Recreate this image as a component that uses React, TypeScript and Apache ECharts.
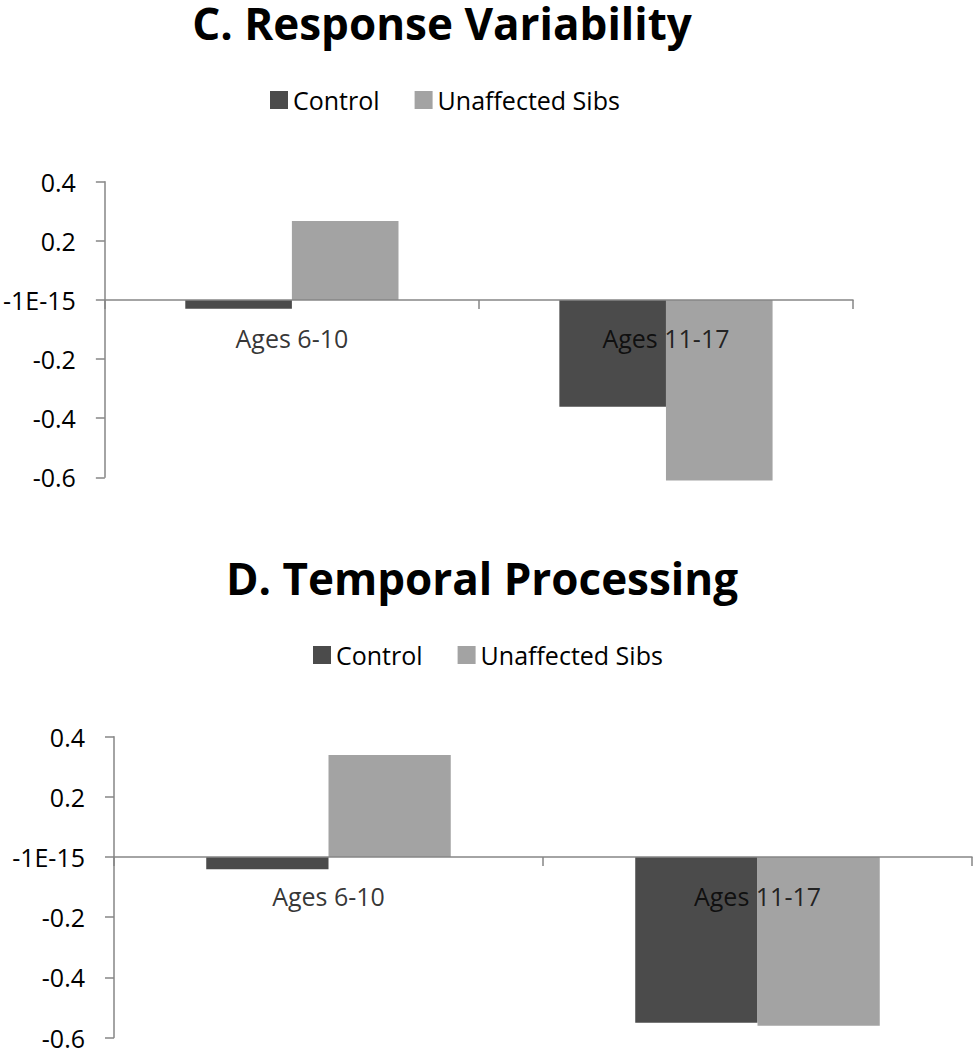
import React, { useEffect, useRef } from "react";
import * as echarts from "echarts";

const categories = ["Ages 6-10", "Ages 11-17"];
const seriesNames = ["Control", "Unaffected Sibs"];
const responseControl = [-0.03, -0.361];
const responseSibs = [0.267, -0.611];
const temporalControl = [-0.041, -0.551];
const temporalSibs = [0.339, -0.561];
const yTickLabels = ["-0.6", "-0.4", "-0.2", "-1E-15", "0.2", "0.4"];
const titles = ["C. Response Variability", "D. Temporal Processing"];

const FONT = "'Open Sans', 'Noto Sans', sans-serif";
const AXIS_COLOR = "#868686";
const COLORS = ["#4b4b4b", "#a3a3a3"];

export default function App() {
  const ref = useRef<HTMLDivElement>(null);

  useEffect(() => {
    document.body.style.margin = "0";
    if (!ref.current) return;
    const chart = echarts.init(ref.current, undefined, { renderer: "svg" });

    const grids = [
      { left: 104, top: 181.7, width: 749, height: 295.6 },
      { left: 114, top: 736.7, width: 858, height: 304.3 },
    ];

    const xAxes = grids.map((_, i) => ({
      type: "category",
      gridIndex: i,
      data: categories,
      z: 5,
      axisLine: { onZero: true, lineStyle: { color: AXIS_COLOR, width: 1.5 } },
      axisTick: { show: true, length: 9, lineStyle: { color: AXIS_COLOR, width: 1.5 } },
      axisLabel: { show: false },
    }));

    const yAxes = grids.map((_, i) => ({
      type: "value",
      gridIndex: i,
      min: -0.6,
      max: 0.4,
      interval: 0.2,
      splitLine: { show: false },
      axisLine: { show: true, lineStyle: { color: AXIS_COLOR, width: 1.5 } },
      axisTick: { show: true, length: 9, lineStyle: { color: AXIS_COLOR, width: 1.5 } },
      axisLabel: {
        margin: 29,
        fontSize: 25,
        color: "#000",
        fontFamily: FONT,
        formatter: (_v: number, idx: number) => yTickLabels[idx],
      },
    }));

    const dataSets = [
      [responseControl, responseSibs],
      [temporalControl, temporalSibs],
    ];

    const series: any[] = [];
    dataSets.forEach((pair, gi) => {
      pair.forEach((vals, si) => {
        series.push({
          type: "bar",
          name: seriesNames[si],
          xAxisIndex: gi,
          yAxisIndex: gi,
          data: vals,
          clip: false,
          barGap: "0%",
          barCategoryGap: "43%",
          itemStyle: { color: COLORS[si] },
        });
      });
      // category labels sitting just under the zero line
      series.push({
        type: "scatter",
        name: "category-labels",
        xAxisIndex: gi,
        yAxisIndex: gi,
        data: categories.map((c) => [c, 0]),
        symbolSize: 0,
        z: 10,
        silent: true,
        label: {
          show: true,
          position: "bottom",
          distance: 26,
          formatter: (p: any) => p.name || p.value[0],
          fontSize: 25,
          color: "#000",
          fontFamily: FONT,
        },
      });
    });

    chart.setOption({
      animation: false,
      color: COLORS,
      textStyle: { fontFamily: FONT },
      title: [
        { text: titles[0], left: 442, top: 1, textAlign: "center", padding: 0 },
        { text: titles[1], left: 482, top: 556, textAlign: "center", padding: 0 },
      ].map((t) => ({
        ...t,
        textStyle: { fontSize: 44, fontWeight: "bold", color: "#000", fontFamily: FONT },
      })),
      legend: [
        { left: 270, top: 87.5 },
        { left: 313, top: 642.5 },
      ].map((l) => ({
        ...l,
        padding: 0,
        data: seriesNames,
        icon: "rect",
        itemWidth: 18,
        itemHeight: 18,
        itemGap: 35,
        selectedMode: false,
        textStyle: { fontSize: 25, color: "#000", fontFamily: FONT },
      })),
      grid: grids,
      xAxis: xAxes,
      yAxis: yAxes,
      series,
    });

    return () => chart.dispose();
  }, []);

  return <div ref={ref} style={{ width: 973, height: 1050 }} />;
}
